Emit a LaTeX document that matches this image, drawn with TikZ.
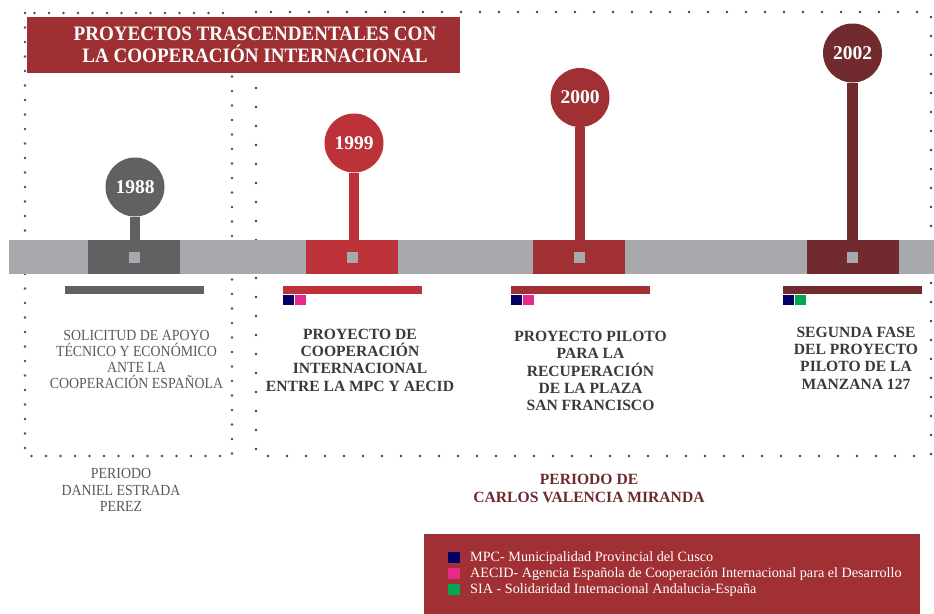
\documentclass[tikz,border=0pt]{standalone}
\usepackage{fontspec}
\setmainfont{Liberation Serif}
\newfontfamily\narrowserif[FakeStretch=0.9]{Liberation Serif}
\newfontfamily\titleserif[FakeStretch=0.93]{Liberation Serif}
\definecolor{bargrey}{HTML}{A7A9AC}
\definecolor{yeargrey}{HTML}{616164}
\definecolor{yearred}{HTML}{BC3238}
\definecolor{yearbrick}{HTML}{A03033}
\definecolor{yearwine}{HTML}{712A2E}
\definecolor{titlered}{HTML}{9E2F33}
\definecolor{mpcblue}{HTML}{000066}
\definecolor{aecidpink}{HTML}{E9298A}
\definecolor{siagreen}{HTML}{00A651}
\definecolor{dotgrey}{HTML}{4D4D4F}
\definecolor{dotred}{HTML}{6B2A2E}
\definecolor{textgrey}{HTML}{58595B}
\definecolor{textdark}{HTML}{3A3A3A}
\tikzset{
  dotsgrey/.style={dotgrey, line width=2.8pt, line cap=round, dash pattern=on 0pt off 14.5pt},
  dotsred/.style={dotred, line width=2.8pt, line cap=round, dash pattern=on 0pt off 19pt},
  yearblock/.style={minimum width=92pt, minimum height=34pt, inner sep=0pt, outer sep=0pt},
  yearball/.style={circle, minimum size=59pt, inner sep=0pt, outer sep=0pt, text=white,
    font=\bfseries\fontsize{19.5}{20}\selectfont},
  stem/.style={line width=10.5pt},
  midsquare/.style={fill=bargrey, minimum size=11pt, inner sep=0pt},
  underbar/.style={anchor=north west, minimum width=139pt, minimum height=8pt, inner sep=0pt},
  tagbox/.style={anchor=north west, minimum width=11pt, minimum height=10.5pt, inner sep=0pt},
  boldtext/.style={align=center, text=textdark, font=\bfseries\fontsize{15.6}{17.3}\selectfont},
  greytext/.style={align=center, text=textgrey, font=\narrowserif\fontsize{15.4}{16}\selectfont},
  legendbox/.style={minimum size=11.5pt, inner sep=0pt},
  legendtext/.style={anchor=west, text=white, inner sep=0pt, font=\fontsize{14.2}{14.5}\selectfont}
}
\begin{document}
\begin{tikzpicture}[x=1pt,y=-1pt]
\useasboundingbox (0,0) rectangle (934,613);
% dotted frames of the two periods
\draw[dotsgrey] (25,13) rectangle (232,456);
\draw[dotsred] (256,12) rectangle (931,456);
% title
\node[fill=titlered, anchor=north west, minimum width=433pt, minimum height=56pt, inner sep=0pt] (title) at (27,17) {};
\node[text=white, align=center, font=\bfseries\titleserif\fontsize{20.5}{22.5}\selectfont] (titletext) at (255,45)
  {PROYECTOS TRASCENDENTALES CON\\LA COOPERACIÓN INTERNACIONAL};
% timeline bar
\fill[bargrey] (9,240) rectangle (934,274);
\node[yearblock, fill=yeargrey] (b88) at (134,257) {};
\node[yearblock, fill=yearred] (b99) at (352,257) {};
\node[yearblock, fill=yearbrick] (b00) at (579,257) {};
\node[yearblock, fill=yearwine] (b02) at (852.5,257) {};
\node[midsquare] (s88) at (b88.center) {};
\node[midsquare] (s99) at (b99.center) {};
\node[midsquare] (s00) at (b00.center) {};
\node[midsquare] (s02) at (b02.center) {};
% years
\node[yearball, fill=yeargrey] (y88) at (135,187) {1988};
\node[yearball, fill=yearred] (y99) at (354,143) {1999};
\node[yearball, fill=yearbrick] (y00) at (580,97.5) {2000};
\node[yearball, fill=yearwine] (y02) at (852.5,53) {2002};
\draw[stem, yeargrey] (y88.south) -- (b88.north -| y88.south);
\draw[stem, yearred] (y99.south) -- (b99.north -| y99.south);
\draw[stem, yearbrick] (y00.south) -- (b00.north -| y00.south);
\draw[stem, yearwine] (y02.south) -- (b02.north -| y02.south);
% bars and partners under each year
\node[underbar, fill=yeargrey] (u88) at (65,286) {};
\node[underbar, fill=yearred] (u99) at (283,286) {};
\node[underbar, fill=yearbrick] (u00) at (511,286) {};
\node[underbar, fill=yearwine] (u02) at (783,286) {};
\node[tagbox, fill=mpcblue] (p99a) at (u99.south west) {};
\node[tagbox, fill=aecidpink] (p99b) at (p99a.north east) {};
\node[tagbox, fill=mpcblue] (p00a) at (u00.south west) {};
\node[tagbox, fill=aecidpink] (p00b) at (p00a.north east) {};
\node[tagbox, fill=mpcblue] (p02a) at (u02.south west) {};
\node[tagbox, fill=siagreen] (p02b) at (p02a.north east) {};
% descriptions
\node[greytext] (t88) at (136.5,359) {SOLICITUD DE APOYO\\TÉCNICO Y ECONÓMICO\\ANTE LA\\COOPERACIÓN ESPAÑOLA};
\node[boldtext] (t99) at (360,360) {PROYECTO DE\\COOPERACIÓN\\INTERNACIONAL\\ENTRE LA MPC Y AECID};
\node[boldtext] (t00) at (590.5,371) {PROYECTO PILOTO\\PARA LA\\RECUPERACIÓN\\DE LA PLAZA\\SAN FRANCISCO};
\node[boldtext] (t02) at (856,358) {SEGUNDA FASE\\DEL PROYECTO\\PILOTO DE LA\\MANZANA 127};
% periods
\node[greytext, font=\narrowserif\fontsize{15.4}{16.8}\selectfont] (pde) at (121,490) {PERIODO\\DANIEL ESTRADA\\PEREZ};
\node[boldtext, text=dotred] (pcv) at (589,488.5) {PERIODO DE\\CARLOS VALENCIA MIRANDA};
% legend
\node[fill=yearbrick, anchor=north west, minimum width=496pt, minimum height=80pt, inner sep=0pt] (legend) at (424,534) {};
\node[legendbox, fill=mpcblue] (lmpc) at (454,557.5) {};
\node[legendbox, fill=aecidpink] (laecid) at (454,573.5) {};
\node[legendbox, fill=siagreen] (lsia) at (454,589.5) {};
\node[legendtext] (lmpct) at (470,558) {MPC- Municipalidad Provincial del Cusco};
\node[legendtext] (laecidt) at (470,574) {AECID- Agencia Española de Cooperación Internacional para el Desarrollo};
\node[legendtext] (lsiat) at (470,590) {SIA - Solidaridad Internacional Andalucia-España};
\end{tikzpicture}
\end{document}
